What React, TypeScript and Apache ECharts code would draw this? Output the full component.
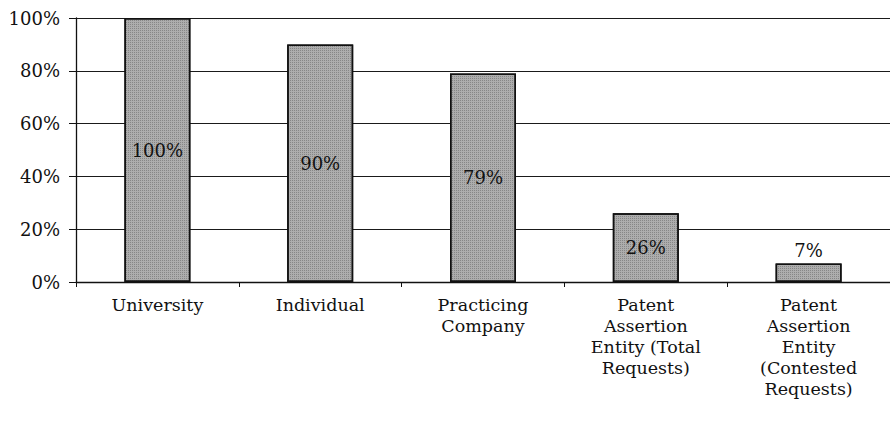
import React, { useEffect, useRef } from "react";
import * as echarts from "echarts";

const categories = [
  "University",
  "Individual",
  "Practicing\nCompany",
  "Patent\nAssertion\nEntity (Total\nRequests)",
  "Patent\nAssertion\nEntity\n(Contested\nRequests)",
];
const values = [100, 90, 79, 26, 7];
const yTicks = [0, 20, 40, 60, 80, 100];

const FONT = "DejaVu Serif";

export default function App() {
  const ref = useRef<HTMLDivElement>(null);
  useEffect(() => {
    document.body.style.margin = "0";
    document.body.style.overflow = "hidden";
    const chart = echarts.init(ref.current!, null, { renderer: "svg" });
    chart.setOption({
      animation: false,
      backgroundColor: "#ffffff",
      grid: { left: 76, top: 18, width: 820, height: 264 },
      xAxis: {
        type: "category",
        data: categories,
        axisLine: { show: true, lineStyle: { color: "#111", width: 1.3 } },
        axisTick: { show: true, length: 5, lineStyle: { color: "#111" } },
        axisLabel: {
          fontFamily: FONT,
          fontSize: 17.5,
          color: "#111",
          lineHeight: 21,
          margin: 12,
          interval: 0,
        },
      },
      yAxis: {
        type: "value",
        min: 0,
        max: 100,
        interval: 20,
        axisLine: { show: true, lineStyle: { color: "#111", width: 1.3 } },
        axisTick: { show: true, length: 7, lineStyle: { color: "#111" } },
        splitLine: { show: true, lineStyle: { color: "#1a1a1a", width: 1.2 } },
        axisLabel: {
          fontFamily: FONT,
          fontSize: 18,
          color: "#111",
          margin: 16,
          formatter: (v: number) => (yTicks.includes(v) ? v + "%" : ""),
        },
      },
      series: [
        {
          type: "bar",
          barWidth: 66,
          data: values.map((v) => ({
            value: v,
            label: { position: v < 10 ? "top" : "inside" },
          })),
          itemStyle: {
            color: "#adadad",
            borderColor: "#111",
            borderWidth: 1.5,
            decal: {
              symbol: "rect",
              symbolSize: 1,
              dashArrayX: [1, 1],
              dashArrayY: [1, 1],
              color: "rgba(60,60,60,0.35)",
            },
          },
          label: {
            show: true,
            fontFamily: FONT,
            fontSize: 18,
            color: "#111",
            distance: 4,
            formatter: (p: any) => p.value + "%",
          },
        },
      ],
    });
    return () => chart.dispose();
  }, []);
  return <div ref={ref} style={{ width: 890, height: 423 }} />;
}
